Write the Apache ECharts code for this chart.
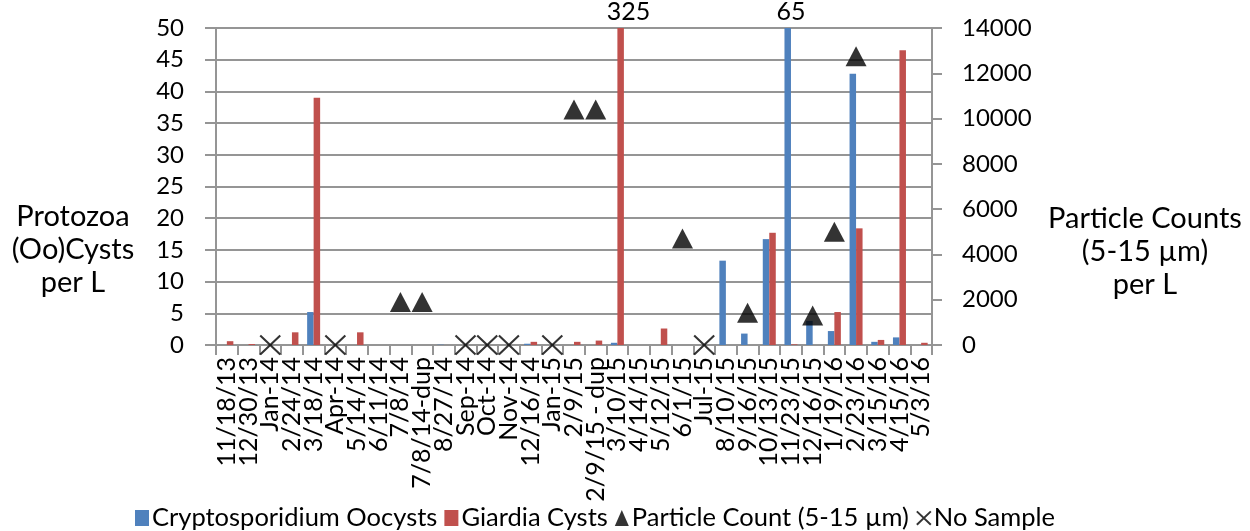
<!DOCTYPE html>
<html>
<head>
<meta charset="utf-8">
<title>Protozoa and particle counts</title>
<script src="https://cdn.jsdelivr.net/npm/echarts@6/dist/echarts.min.js"></script>
<style>
  html, body { margin: 0; padding: 0; background: #fff; }
  #chart { width: 1250px; height: 531px; }
</style>
</head>
<body>
<div id="chart"></div>
<script>
// Sampling dates
const categories = [
  '11/18/13', '12/30/13', 'Jan-14', '2/24/14', '3/18/14', 'Apr-14', '5/14/14', '6/11/14',
  '7/8/14', '7/8/14-dup', '8/27/14', 'Sep-14', 'Oct-14', 'Nov-14', '12/16/14', 'Jan-15',
  '2/9/15', '2/9/15 - dup', '3/10/15', '4/14/15', '5/12/15', '6/1/15', 'Jul-15', '8/10/15',
  '9/16/15', '10/13/15', '11/23/15', '12/16/15', '1/19/16', '2/23/16', '3/15/16', '4/15/16', '5/3/16'
];

// Cryptosporidium oocysts per L (left axis)
const cryptoOocysts = [
  0, 0, null, 0, 5.2, null, 0, 0,
  0, 0, 0.05, null, null, null, 0.2, null,
  0, 0, 0.35, 0, 0, 0, null, 13.3,
  1.8, 16.7, 65, 3.8, 2.2, 42.8, 0.5, 1.2, 0
];

// Giardia cysts per L (left axis)
const giardiaCysts = [
  0.6, 0.15, null, 2.0, 39.0, null, 2.0, 0,
  0, 0, 0, null, null, null, 0.5, null,
  0.5, 0.7, 325, 0, 2.6, 0, null, 0,
  0, 17.7, 0.1, 0, 5.2, 18.4, 0.8, 46.5, 0.35
];

// Particle counts 5-15 µm per L (right axis)
const particleCounts = [
  null, null, null, null, null, null, null, null,
  1900, 1900, null, null, null, null, null, null,
  10400, 10400, null, null, null, 4700, null, null,
  1420, null, null, 1300, 5000, 12750, null, null, null
];

// Dates with no sample collected (1 = no sample)
const noSample = [
  0, 0, 1, 0, 0, 1, 0, 0,
  0, 0, 0, 1, 1, 1, 0, 1,
  0, 0, 0, 0, 0, 0, 1, 0,
  0, 0, 0, 0, 0, 0, 0, 0, 0
];

// Axis tick ranges
const leftAxis = { min: 0, max: 50, interval: 5 };
const rightAxis = { min: 0, max: 14000, interval: 2000 };

const FONT = 'Lato';
const GRID_COLOR = '#959595';
const BLUE = '#4f81bd';
const RED = '#c0504d';

// Values taller than the left axis are cut at its top and labelled with the full value
function overflowLabels(values, dx) {
  const out = [];
  values.forEach(function (v, i) {
    if (v != null && v > leftAxis.max) {
      out.push({ value: [i, leftAxis.max], full: v, label: { offset: [dx, 0] } });
    }
  });
  return out;
}

function overflowSeries(name, values, dx) {
  return {
    name: name,
    type: 'scatter',
    yAxisIndex: 0,
    data: overflowLabels(values, dx),
    symbol: 'circle',
    symbolSize: 2,
    itemStyle: { color: 'rgba(255,255,255,0)' },
    clip: false,
    silent: true,
    z: 6,
    label: {
      show: true,
      position: 'top',
      distance: 3,
      opacity: 1,
      fontFamily: FONT,
      fontSize: 25,
      color: '#000000',
      textBorderWidth: 0,
      formatter: function (p) { return String(p.data.full); }
    }
  };
}

const chart = echarts.init(document.getElementById('chart'), null, { renderer: 'canvas' });

chart.setOption({
  animation: false,
  backgroundColor: '#ffffff',
  textStyle: { fontFamily: FONT, color: '#000' },
  grid: { left: 216, right: 318, top: 28, bottom: 186, containLabel: false },
  legend: {
    data: [
      { name: 'Cryptosporidium Oocysts', icon: 'rect' },
      { name: 'Giardia Cysts', icon: 'rect' },
      { name: 'Particle Count (5-15 µm)' },
      { name: 'No Sample' }
    ],
    left: 130,
    top: 500,
    itemWidth: 14,
    itemHeight: 16,
    itemGap: 7,
    textStyle: { fontFamily: FONT, fontSize: 25.5, color: '#000', padding: [0, 0, 0, -2] }
  },
  graphic: [
    {
      type: 'text',
      x: 73, y: 250,
      style: {
        text: 'Protozoa\n(Oo)Cysts\nper L',
        font: '29px Lato',
        lineHeight: 33,
        textAlign: 'center',
        textVerticalAlign: 'middle',
        fill: '#000'
      }
    },
    {
      type: 'text',
      x: 1145, y: 252,
      style: {
        text: 'Particle Counts\n(5-15 µm)\nper L',
        font: '29px Lato',
        lineHeight: 33,
        textAlign: 'center',
        textVerticalAlign: 'middle',
        fill: '#000'
      }
    }
  ],
  xAxis: {
    type: 'category',
    data: categories,
    boundaryGap: true,
    axisLine: { lineStyle: { color: GRID_COLOR, width: 2 } },
    axisTick: { show: true, length: 10, lineStyle: { color: GRID_COLOR, width: 2 } },
    axisLabel: {
      interval: 0,
      rotate: 90,
      margin: 12,
      fontFamily: FONT,
      fontSize: 25,
      color: '#000'
    },
    splitLine: { show: false }
  },
  yAxis: [
    {
      type: 'value',
      min: leftAxis.min,
      max: leftAxis.max,
      interval: leftAxis.interval,
      position: 'left',
      axisLine: { show: true, lineStyle: { color: GRID_COLOR, width: 2 } },
      axisTick: { show: true, length: 11, lineStyle: { color: GRID_COLOR, width: 2 } },
      axisLabel: { margin: 32, fontFamily: FONT, fontSize: 24, color: '#000' },
      splitLine: { show: true, lineStyle: { color: GRID_COLOR, width: 2 } }
    },
    {
      type: 'value',
      min: rightAxis.min,
      max: rightAxis.max,
      interval: rightAxis.interval,
      position: 'right',
      axisLine: { show: true, lineStyle: { color: GRID_COLOR, width: 2 } },
      axisTick: { show: true, length: 10, lineStyle: { color: GRID_COLOR, width: 2 } },
      axisLabel: {
        margin: 30, fontFamily: FONT, fontSize: 24, color: '#000',
        formatter: function (v) { return String(v); }
      },
      splitLine: { show: false }
    }
  ],
  series: [
    {
      name: 'Cryptosporidium Oocysts',
      type: 'bar',
      yAxisIndex: 0,
      data: cryptoOocysts,
      barWidth: 6.5,
      barGap: '0%',
      clip: true,
      itemStyle: { color: BLUE }
    },
    {
      name: 'Giardia Cysts',
      type: 'bar',
      yAxisIndex: 0,
      data: giardiaCysts,
      barWidth: 6.5,
      barGap: '0%',
      clip: true,
      itemStyle: { color: RED }
    },
    {
      name: 'No Sample',
      type: 'scatter',
      yAxisIndex: 0,
      data: noSample.map(function (f) { return f ? 0 : null; }),
      symbol: 'path://M0,0 L20,19 M20,0 L0,19',
      symbolSize: [20, 19],
      clip: false,
      itemStyle: { color: 'rgba(0,0,0,0)', borderColor: '#000', borderWidth: 2 },
      z: 4
    },
    {
      name: 'Particle Count (5-15 µm)',
      type: 'scatter',
      yAxisIndex: 1,
      data: particleCounts,
      symbol: 'triangle',
      symbolSize: [21, 20],
      itemStyle: { color: '#000' },
      z: 5
    },
    overflowSeries('cryptoOverflow', cryptoOocysts, 0),
    overflowSeries('giardiaOverflow', giardiaCysts, 11)
  ]
});
</script>
</body>
</html>
